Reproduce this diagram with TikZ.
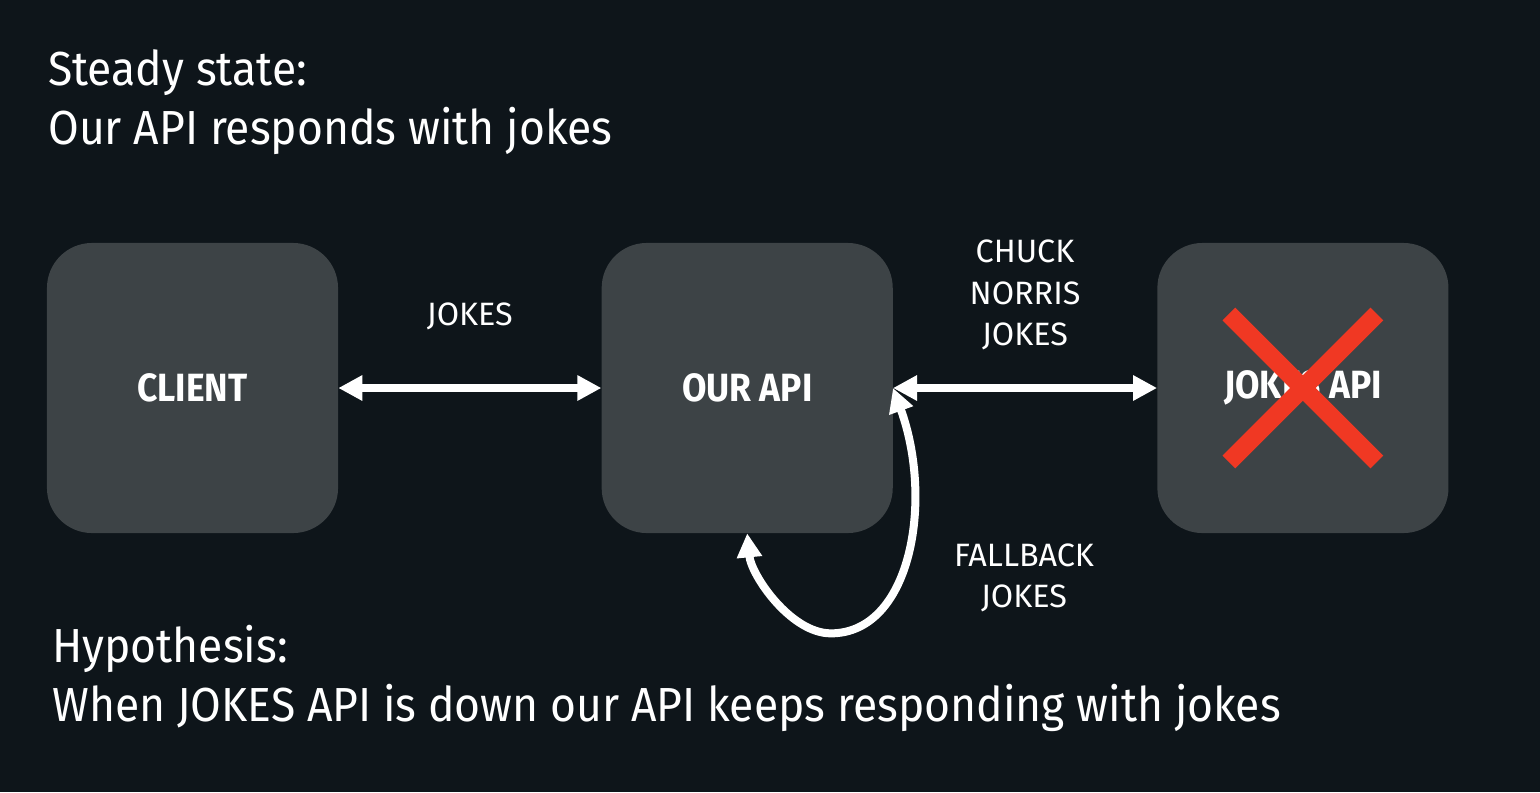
\documentclass[tikz,border=0pt]{standalone}
\usepackage{fontspec}
\setmainfont{Fira Sans}
\newfontfamily\headingfont{Fira Sans}[FakeStretch=0.93]
\newfontfamily\servicefont{Fira Sans}[FakeStretch=0.9]
\usetikzlibrary{positioning}
\usetikzlibrary{arrows.meta}
\definecolor{slide_bg}{RGB}{14,21,26}
\definecolor{box_grey}{RGB}{61,67,70}
\definecolor{cross_red}{RGB}{240,56,35}
\tikzset{
service/.style={rectangle, rounded corners=1.125cm, fill=box_grey, text=white, inner sep=0pt, minimum width=7.275cm, minimum height=7.25cm, font=\servicefont\bfseries\fontsize{28}{34}\selectfont},
flow/.style={draw=white, line width=0.2cm, {Triangle[length=0.6cm,width=0.6cm]}-{Triangle[length=0.6cm,width=0.6cm]}},
flow_label/.style={text=white, align=center, inner sep=0pt, font=\fontsize{23}{29.5}\selectfont},
heading/.style={text=white, anchor=base west, inner sep=0pt, font=\headingfont\fontsize{34}{42}\selectfont},
cross/.style={draw=cross_red, line width=0.45cm}
}

\begin{document}
\begin{tikzpicture}[x=0.025cm, y=-0.025cm]
    \fill[slide_bg] (0,0) rectangle (1540,792);
    \useasboundingbox (0,0) rectangle (1540,792);

    \node[heading] (steady) at (48,85) {Steady state:};
    \node[heading] (steady_text) at (48,144) {Our API responds with jokes};

    \node[service] (client) at (192.5,388) {CLIENT};
    \node[service] (ourapi) [right=6.575cm of client] {OUR API};
    \node[service] (jokesapi) [right=6.6cm of ourapi] {JOKES API};
    \draw[cross] (jokesapi.center) +(-74,-74) -- +(74,74);
    \draw[cross] (jokesapi.center) +(74,-74) -- +(-74,74);

    \draw[flow] (client) -- (ourapi) node[flow_label, midway, yshift=1.8cm] (jokes_label) {JOKES};
    \draw[flow] (ourapi) -- (jokesapi) node[flow_label, midway, yshift=2.325cm] (chuck_label) {CHUCK\\NORRIS\\JOKES};

    \coordinate[below right=2.5cm and 2.09cm of ourapi.south] (loopbottom);
    \draw[flow] (ourapi.east) .. controls +(41,113) and +(80,0) .. (loopbottom)
        .. controls +(-40,0) and +(4,42) .. (ourapi.south);
    \node[flow_label] (fallback_label) at (1024,578) {FALLBACK\\JOKES};

    \node[heading] (hypothesis) at (52,662) {Hypothesis:};
    \node[heading] (hypothesis_text) at (52,721) {When JOKES API is down our API keeps responding with jokes};
\end{tikzpicture}
\end{document}
